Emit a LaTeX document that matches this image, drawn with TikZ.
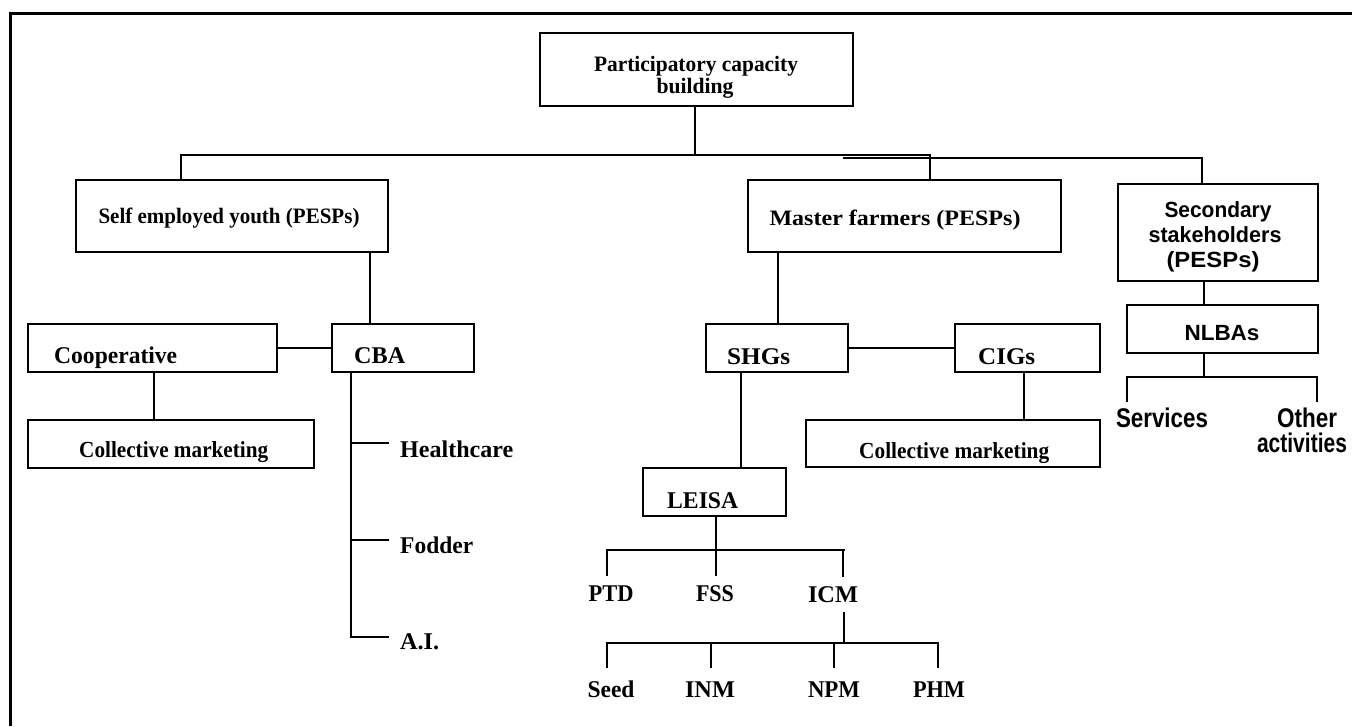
\documentclass[tikz,border=0pt]{standalone}
\usepackage{fontspec}
\setmainfont{Liberation Serif}
\newfontfamily\arialf{Liberation Sans}
\newlength\fitlen
\newcommand\fitw[2]{\settowidth{\fitlen}{#2}\pgfmathsetmacro\fitfac{#1/\fitlen}\scalebox{\fitfac}[1]{#2}}
\tikzset{
  box/.style={draw, line width=2.5pt, inner sep=0pt},
  ln/.style={line width=2.5pt},
  serifT/.style={inner sep=0pt, font=\fontsize{#1}{#1}\selectfont\bfseries},
  sansT/.style={inner sep=0pt, font=\arialf\fontsize{#1}{#1}\selectfont\bfseries},
}
\begin{document}
\begin{tikzpicture}[x=1pt,y=-1pt]
\useasboundingbox (0,0) rectangle (1352,726);
% frame
\coordinate (fA) at (10,726); \coordinate (fB) at (10,13); \coordinate (fC) at (1352,13);
\draw[line width=3pt] (fA) -- (fB) -- (fC);

% boxes
\node[box, minimum width=313pt, minimum height=73pt] (pcb) at (696.5,69.5) {};
\node[box, minimum width=312pt, minimum height=72pt] (sey) at (232,216) {};
\node[box, minimum width=313pt, minimum height=72pt] (mf) at (904.5,216) {};
\node[box, minimum width=200pt, minimum height=97pt] (ss) at (1218,232.5) {};
\node[box, minimum width=191pt, minimum height=48pt] (nlba) at (1222.5,329) {};
\node[box, minimum width=249pt, minimum height=48pt] (coop) at (152.5,348) {};
\node[box, minimum width=142pt, minimum height=48pt] (cba) at (403,348) {};
\node[box, minimum width=286pt, minimum height=48pt] (cm1) at (171,444) {};
\node[box, minimum width=142pt, minimum height=48pt] (shg) at (777,348) {};
\node[box, minimum width=145pt, minimum height=48pt] (cig) at (1027.5,348) {};
\node[box, minimum width=294pt, minimum height=47pt] (cm2) at (953,443.5) {};
\node[box, minimum width=143pt, minimum height=48pt] (leisa) at (714.5,492) {};

% texts
\node[serifT=22, anchor=base] (tp1) at (696,71) {\fitw{204}{Participatory capacity}};
\node[serifT=22, anchor=base] (tp2) at (695,93) {\fitw{77}{building}};
\node[serifT=22, anchor=base] (tsey) at (229,223) {\fitw{261}{Self employed youth (PESPs)}};
\node[serifT=22, anchor=base] (tmf) at (895,225) {\fitw{251}{Master farmers (PESPs)}};
\node[sansT=22, anchor=base] (tss1) at (1218,217) {\fitw{107}{Secondary}};
\node[sansT=22, anchor=base] (tss2) at (1215,242) {\fitw{133}{stakeholders}};
\node[sansT=22, anchor=base] (tss3) at (1213,267) {\fitw{93}{(PESPs)}};
\node[sansT=22, anchor=base] (tnl) at (1222,340) {\fitw{75}{NLBAs}};
\node[sansT=27, anchor=base] (serv) at (1162,427) {\fitw{92}{Services}};
\node[sansT=27, anchor=base] (oth1) at (1307,427) {\fitw{60}{Other}};
\node[sansT=27, anchor=base] (oth2) at (1302,452) {\fitw{90}{activities}};
\node[serifT=24, anchor=base west] (tcoop) at (54,363) {\fitw{123}{Cooperative}};
\node[serifT=24, anchor=base west] (tcba) at (354,363) {\fitw{51}{CBA}};
\node[serifT=23, anchor=base west] (tcm1) at (79,457) {\fitw{189}{Collective marketing}};
\node[serifT=24, anchor=base west] (hc) at (400,457) {\fitw{113}{Healthcare}};
\node[serifT=24, anchor=base west] (fod) at (400,553) {\fitw{73}{Fodder}};
\node[serifT=24, anchor=base west] (ai) at (400,649) {\fitw{39}{A.I.}};
\node[serifT=24, anchor=base west] (tshg) at (727,364) {\fitw{63}{SHGs}};
\node[serifT=24, anchor=base west] (tcig) at (978,364) {\fitw{57}{CIGs}};
\node[serifT=23, anchor=base west] (tcm2) at (859,458) {\fitw{190}{Collective marketing}};
\node[serifT=24, anchor=base west] (tle) at (667,508) {\fitw{71}{LEISA}};
\node[serifT=24, anchor=base] (ptd) at (611,601) {\fitw{45}{PTD}};
\node[serifT=24, anchor=base] (fss) at (715,601) {\fitw{38}{FSS}};
\node[serifT=24, anchor=base] (icm) at (833,602) {\fitw{50}{ICM}};
\node[serifT=24, anchor=base] (seed) at (611,697) {\fitw{47}{Seed}};
\node[serifT=24, anchor=base] (inm) at (710,697) {\fitw{50}{INM}};
\node[serifT=24, anchor=base] (npm) at (834,697) {\fitw{52}{NPM}};
\node[serifT=24, anchor=base] (phm) at (939,697) {\fitw{52}{PHM}};

% top buses
\coordinate (b0) at (695,155);
\coordinate (bL) at (181,155);
\coordinate (bM) at (930,155);
\coordinate (bA) at (843,158);
\coordinate (bR) at (1202,158);
\draw[ln] (pcb.south -| b0) -- (b0);
\draw[ln] (sey.north -| bL) -- (bL) -- (bM) -- (mf.north -| bM);
\draw[ln] (bA) -- (bR) -- (ss.north -| bR);

% self employed branch
\coordinate (x370) at (370,0);
\draw[ln] (sey.south -| x370) -- (cba.north -| x370);
\draw[ln] (coop.east) -- (cba.west);
\coordinate (x154) at (154,0);
\draw[ln] (coop.south -| x154) -- (cm1.north -| x154);
\coordinate (tr3) at (351,637);
\coordinate (hcE) at (389,443);
\coordinate (foE) at (389,540);
\coordinate (aiE) at (389,637);
\draw[ln] (cba.south -| tr3) -- (tr3) -- (aiE);
\draw[ln] (hcE -| tr3) -- (hcE);
\draw[ln] (foE -| tr3) -- (foE);

% master farmers branch
\coordinate (x778) at (778,0);
\draw[ln] (mf.south -| x778) -- (shg.north -| x778);
\draw[ln] (shg.east) -- (cig.west);
\coordinate (x1024) at (1024,0);
\draw[ln] (cig.south -| x1024) -- (cm2.north -| x1024);
\coordinate (x741) at (741,0);
\draw[ln] (shg.south -| x741) -- (leisa.north -| x741);

% LEISA tree
\coordinate (l0) at (716,550);
\coordinate (lL) at (607,550);
\coordinate (lR) at (845,550);
\coordinate (dPTD) at (607,576);
\coordinate (dFSS) at (716,576);
\coordinate (dICM) at (843,577);
\draw[ln] (leisa.south -| l0) -- (dFSS);
\draw[ln] (dPTD) -- (lL) -- (lR);
\draw[ln] (dICM) -- (dICM |- lR);

% ICM tree
\coordinate (i0) at (844,612);
\coordinate (iB) at (844,643);
\coordinate (iL) at (607,643);
\coordinate (iR) at (938,643);
\coordinate (dSeed) at (607,668);
\coordinate (dINM) at (711,668);
\coordinate (dNPM) at (834,668);
\coordinate (dPHM) at (938,668);
\draw[ln] (i0) -- (iB);
\draw[ln] (dSeed) -- (iL) -- (iR) -- (dPHM);
\draw[ln] (dINM) -- (dINM |- iL);
\draw[ln] (dNPM) -- (dNPM |- iL);

% secondary stakeholders branch
\coordinate (x1204) at (1204,0);
\draw[ln] (ss.south -| x1204) -- (nlba.north -| x1204);
\coordinate (n0) at (1204,377);
\coordinate (nL) at (1127,377);
\coordinate (nR) at (1317,377);
\coordinate (dServ) at (1127,402);
\coordinate (dOth) at (1317,402);
\draw[ln] (nlba.south -| n0) -- (n0);
\draw[ln] (dServ) -- (nL) -- (nR) -- (dOth);
\end{tikzpicture}
\end{document}
